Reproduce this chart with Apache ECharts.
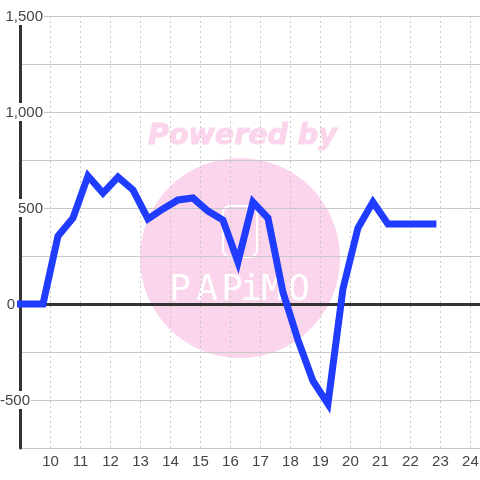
<!DOCTYPE html>
<html><head><meta charset="utf-8">
<style>html,body{margin:0;padding:0;background:#fff}#c{width:480px;height:480px}</style>
<script src="https://cdn.jsdelivr.net/npm/echarts@6/dist/echarts.min.js"></script>
</head><body><div id="c"></div>
<script>
const hours=[9,9.25,9.75,10.25,10.75,11.25,11.75,12.25,12.75,13.25,13.75,14.25,14.75,15.25,15.75,16.25,16.75,17.25,17.75,18.25,18.75,19.25,19.75,20.25,20.75,21.25,21.75,22.25,22.75];
const values=[0,0,0,354,448,667,578,661,594,443,495,542,552,484,437,219,531,448,62,-187,-401,-520,78,396,531,417,417,417,417];
const yTickLabels={1500:'1,500',1000:'1,000',500:'500',0:'0','-500':'-500'};
const xTickLabels=['10','11','12','13','14','15','16','17','18','19','20','21','22','23','24'];
const logoLetters=['P','A','P','i','M','O'];
const logoCentres=[180,207,232,251,272,299];

const chart=echarts.init(document.getElementById('c'),null,{renderer:'canvas'});
const font='"Liberation Sans",Arial,sans-serif';
const logoText=logoLetters.map((ch,i)=>({type:'text',z:-8,
  style:{x:logoCentres[i],y:291,text:ch,fill:'#ffffff',textAlign:'center',textVerticalAlign:'middle',font:'36px "DejaVu Sans Mono",monospace'}}));
chart.setOption({
  animation:false,
  backgroundColor:'#fff',
  grid:{left:20.5,right:0,top:16,bottom:32,outerBoundsMode:'none',containLabel:false},
  graphic:{elements:[
    {type:'circle',z:-10,shape:{cx:240,cy:258,r:100},style:{fill:'#fbd5ec'}},
    {type:'text',z:-9,style:{x:148,y:137,text:'Powered by',fill:'#fbd5ec',stroke:'#fbd5ec',lineWidth:1,textVerticalAlign:'middle',font:'italic bold 28.5px "DejaVu Sans",sans-serif'}},
    {type:'rect',z:-8,shape:{x:223,y:206,width:34,height:51,r:7},style:{fill:'none',stroke:'#fff',lineWidth:2}},
    ...logoText
  ]},
  xAxis:[{
    type:'value',min:9,max:24.32,interval:1,position:'bottom',
    axisLine:{show:false,onZero:false},axisTick:{show:false},
    axisLabel:{color:'#444',fontFamily:font,fontSize:15,margin:6,showMaxLabel:true,
      formatter:v=>xTickLabels.includes(String(v))?String(v):''},
    splitLine:{show:true,lineStyle:{color:'#c8c8c8',type:[2,3],width:1}}
  },{
    type:'value',min:9,max:24.32,interval:1,
    axisLine:{show:true,onZero:true,lineStyle:{color:'#333',width:3}},
    axisTick:{show:false},axisLabel:{show:false},splitLine:{show:false}
  }],
  yAxis:{
    type:'value',min:-750,max:1500,interval:250,
    axisLine:{show:true,onZero:false,lineStyle:{color:'#333',width:3}},
    axisTick:{show:false},
    splitLine:{show:true,lineStyle:{color:'#c8c8c8',width:1}},
    axisLabel:{show:true,align:'right',margin:-23.5,hideOverlap:false,showMinLabel:true,showMaxLabel:true,
      formatter:v=>{
        const t=yTickLabels[v];
        if(t===undefined)return '';
        if(v===0)return '{v|'+t+'}{s0|}';
        if(v<0)return '{v|'+t+'}{s1|}';
        return '{v|'+t+'}';
      },
      rich:{
        v:{color:'#444',fontFamily:font,fontSize:15,backgroundColor:'#fff',height:16,lineHeight:18,padding:[2,1,0,1]},
        s0:{width:28,height:16},
        s1:{width:13,height:16}
      }
    }
  },
  series:[{
    type:'line',xAxisIndex:0,data:hours.map((h,i)=>[h,values[i]]),
    showSymbol:false,symbol:'none',clip:false,z:5,smooth:false,
    lineStyle:{color:'#1f3cff',width:7,cap:'square',join:'miter'}
  }]
});
</script></body></html>
